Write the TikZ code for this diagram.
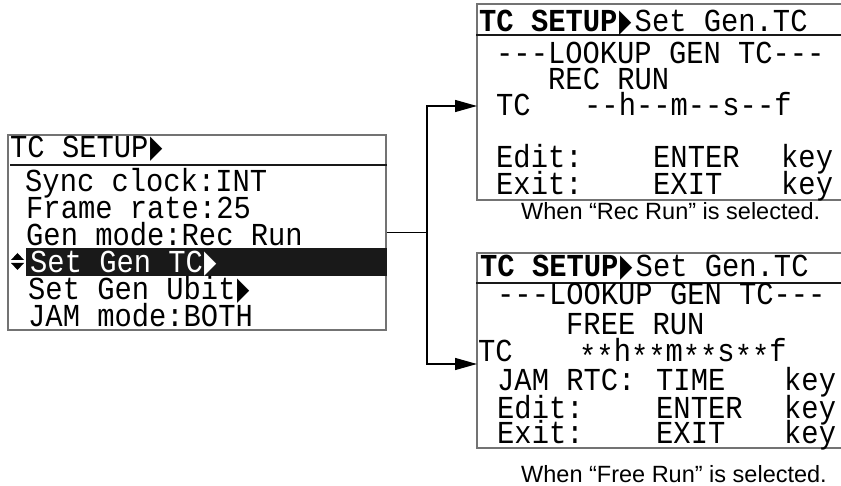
\documentclass[tikz,border=0pt]{standalone}
\usepackage{fontspec}
\setmainfont{Liberation Sans}
\setmonofont[FakeStretch=0.9]{Liberation Mono}
\newfontfamily\symfont{DejaVu Sans}
\newfontfamily\capfont{Liberation Sans}
\usetikzlibrary{arrows.meta}
\newcommand\lcdtri{\makebox[0.54em][l]{\hspace{0.06em}\symfont\scalebox{0.5}[1.0]{▶}}}
\newcommand\lcdast{\raisebox{-0.17em}{*}}
\begin{document}
\begin{tikzpicture}[x=1pt,y=-1pt,
  lcd/.style={font=\ttfamily\fontsize{32}{32}\selectfont, inner sep=0pt, anchor=base west},
  captxt/.style={font=\capfont\fontsize{23.5}{23.5}\selectfont, inner sep=0pt, anchor=base west},
  box/.style={draw=black!55, line width=1.2pt, inner sep=0pt, fill=white},
  rulel/.style={line width=2.6pt, draw=black!90},
  conn/.style={line width=1.3pt},
  arr/.style={conn, -{Triangle[length=22pt,width=12pt]}}]
\useasboundingbox (0,0) rectangle (841,486);
\clip (0,0) rectangle (841,486);

% ---------- left menu ----------
\node[box, minimum width=378pt, minimum height=195pt] (L) at (197,232.5) {};
\draw[rulel] (10,165) -- (L.east |- 0,165);
\fill[black!90] (26,248) rectangle (L.east |- 0,276);
\fill (11,260) -- (24,260) -- (17.5,253) -- cycle;
\fill (11,263) -- (24,263) -- (17.5,270) -- cycle;
\node[lcd] (l0) at (10,158) {TC SETUP\lcdtri};
\node[lcd] (l1) at (25,192) {Sync clock:INT};
\node[lcd] (l2) at (26,219) {Frame rate:25};
\node[lcd] (l3) at (26,246) {Gen mode:Rec Run};
\node[lcd, text=white] (l4) at (30,273) {Set Gen TC\lcdtri};
\node[lcd] (l5) at (28,300) {Set Gen Ubit\lcdtri};
\node[lcd] (l6) at (28,327) {JAM mode:BOTH};

% ---------- top right screen ----------
\node[box, minimum width=380pt, minimum height=196pt] (T) at (667,102) {};
\draw[rulel] (T.west |- 0,35) -- (T.east |- 0,35);
\node[lcd] (t0) at (479,32) {{\bfseries TC SETUP}\lcdtri{}Set Gen.TC};
\node[lcd] (t1) at (496,64) {-{}-{}-LOOKUP GEN TC-{}-{}-};
\node[lcd] (t2) at (548,90) {REC RUN};
\node[lcd] (t3a) at (496,116) {TC};
\node[lcd] (t3b) at (584,116) {-{}-h-{}-m-{}-s-{}-f};
\node[lcd] (t4a) at (496,168) {Edit:};
\node[lcd] (t4b) at (653,168) {ENTER};
\node[lcd] (t4c) at (781,168) {key};
\node[lcd] (t5a) at (496,195) {Exit:};
\node[lcd] (t5b) at (653,195) {EXIT};
\node[lcd] (t5c) at (781,195) {key};
\node[captxt] (tc) at (521,220) {When “Rec Run” is selected.};

% ---------- bottom right screen ----------
\node[box, minimum width=380pt, minimum height=195pt] (B) at (667,350.5) {};
\draw[rulel] (B.west |- 0,283) -- (B.east |- 0,283);
\node[lcd] (b0) at (480,277) {{\bfseries TC SETUP}\lcdtri{}Set Gen.TC};
\node[lcd] (b1) at (497,305) {-{}-{}-LOOKUP GEN TC-{}-{}-};
\node[lcd] (b2) at (566,335) {FREE RUN};
\node[lcd] (b3a) at (478,362) {TC};
\node[lcd] (b3b) at (579,362) {\lcdast\lcdast h\lcdast\lcdast m\lcdast\lcdast s\lcdast\lcdast f};
\node[lcd] (b4a) at (497,391) {JAM RTC:};
\node[lcd] (b4b) at (656,391) {TIME};
\node[lcd] (b4c) at (784,391) {key};
\node[lcd] (b5a) at (497,418) {Edit:};
\node[lcd] (b5b) at (656,418) {ENTER};
\node[lcd] (b5c) at (784,418) {key};
\node[lcd] (b6a) at (497,443) {Exit:};
\node[lcd] (b6b) at (656,443) {EXIT};
\node[lcd] (b6c) at (784,443) {key};
\node[captxt] (bc) at (521,482) {When “Free Run” is selected.};

% ---------- connectors ----------
\coordinate (j) at (427,232.5);
\coordinate (ta) at (477,106);
\coordinate (ba) at (477,364);
\draw[conn] (L.east) -- (j);
\draw[arr] (j) |- (ta);
\draw[arr] (j) |- (ba);
\end{tikzpicture}
\end{document}
